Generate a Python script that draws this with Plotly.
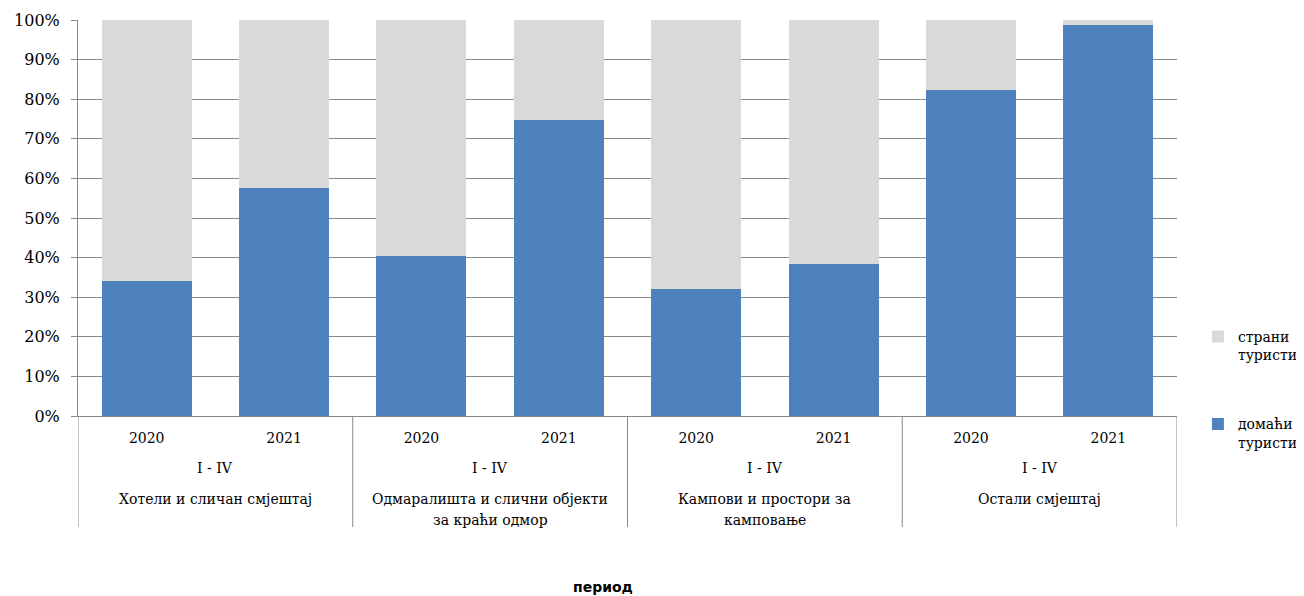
import plotly.graph_objects as go

# ---- data ----
groups = ["Хотели и сличан смјештај",
          "Одмаралишта и слични објекти<br>за краћи одмор",
          "Кампови и простори за<br>камповање",
          "Остали смјештај"]
period = "I - IV"
years = ["2020", "2021"]
domestic = [34.1, 57.6, 40.4, 74.7, 32.1, 38.4, 82.3, 98.7]   # домаћи туристи (%)
foreign = [65.9, 42.4, 59.6, 25.3, 67.9, 61.6, 17.7, 1.3]     # страни туристи (%)
y_ticks = [0, 10, 20, 30, 40, 50, 60, 70, 80, 90, 100]

# ---- derived positions ----
n_years = len(years)
x = list(range(len(groups) * n_years))
tick_text = [years[i % n_years] for i in x]

GRID = "#898989"
BLUE = "#4F81BD"
GRAY = "#D9D9D9"
FONT = "DejaVu Serif"

fig = go.Figure()
fig.add_trace(go.Bar(x=x, y=domestic, name="домаћи<br>туристи", marker_color=BLUE,
                     marker_line_width=0, legendgroup="d", legendrank=2))
fig.add_trace(go.Bar(x=x, y=foreign, name="страни<br>туристи", marker_color=GRAY,
                     marker_line_width=0, legendgroup="f", legendrank=1))

H_PLOT = 396.0  # plot area height in px


def py(px_below):
    """paper y for a distance in px below the x axis"""
    return -px_below / H_PLOT


annotations = []
shapes = []
for gi, g in enumerate(groups):
    center = gi * n_years + (n_years - 1) / 2
    annotations.append(dict(x=center, xref="x", y=py(52), yref="paper", text=period,
                            showarrow=False, yanchor="middle",
                            font=dict(family=FONT, size=14, color="#000")))
    for li, line in enumerate(g.split("<br>")):
        annotations.append(dict(x=center, xref="x", y=py(83 + 21 * li), yref="paper",
                                text=line, showarrow=False, yanchor="middle",
                                font=dict(family=FONT, size=14, color="#000")))
# dividers
for b in range(len(groups) + 1):
    xb = b * n_years - 0.5
    shapes.append(dict(type="line", xref="x", yref="paper", x0=xb, x1=xb,
                       y0=0, y1=py(111), line=dict(color=GRID, width=1)))

annotations.append(dict(x=(603 - 78) / 1099, xref="paper", y=py(171), yref="paper",
                        text="<b>период</b>", showarrow=False, yanchor="middle",
                        font=dict(family="DejaVu Sans", size=14, color="#000")))

fig.update_layout(
    width=1296, height=588,
    margin=dict(l=70, r=127, t=12, b=180, autoexpand=False),
    barmode="stack", bargap=0.345,
    plot_bgcolor="white", paper_bgcolor="white",
    font=dict(family=FONT, size=14, color="#000"),
    showlegend=True,
    legend=dict(x=1.019, xanchor="left", y=0.24, yanchor="top",
                traceorder="grouped", tracegroupgap=48, valign="top",
                font=dict(family=FONT, size=14, color="#000"),
                itemwidth=30, bgcolor="rgba(0,0,0,0)"),
    annotations=annotations, shapes=shapes,
)
fig.update_xaxes(range=[-0.5, len(x) - 0.5], tickmode="array", tickvals=x, ticktext=tick_text,
                 showgrid=False, showline=True, linecolor=GRID, ticks="",
                 tickfont=dict(family=FONT, size=14), ticklabelstandoff=9, zeroline=False,
                 automargin=False)
fig.update_yaxes(range=[0, 100], tickmode="array", tickvals=y_ticks,
                 ticktext=[f"{v}%" for v in y_ticks],
                 showgrid=True, gridcolor=GRID, gridwidth=1, showline=True, linecolor=GRID,
                 ticks="outside", ticklen=6, tickcolor=GRID, zeroline=False,
                 tickfont=dict(family=FONT, size=16), ticklabelstandoff=8, automargin=False)

fig.write_html("out.html")
